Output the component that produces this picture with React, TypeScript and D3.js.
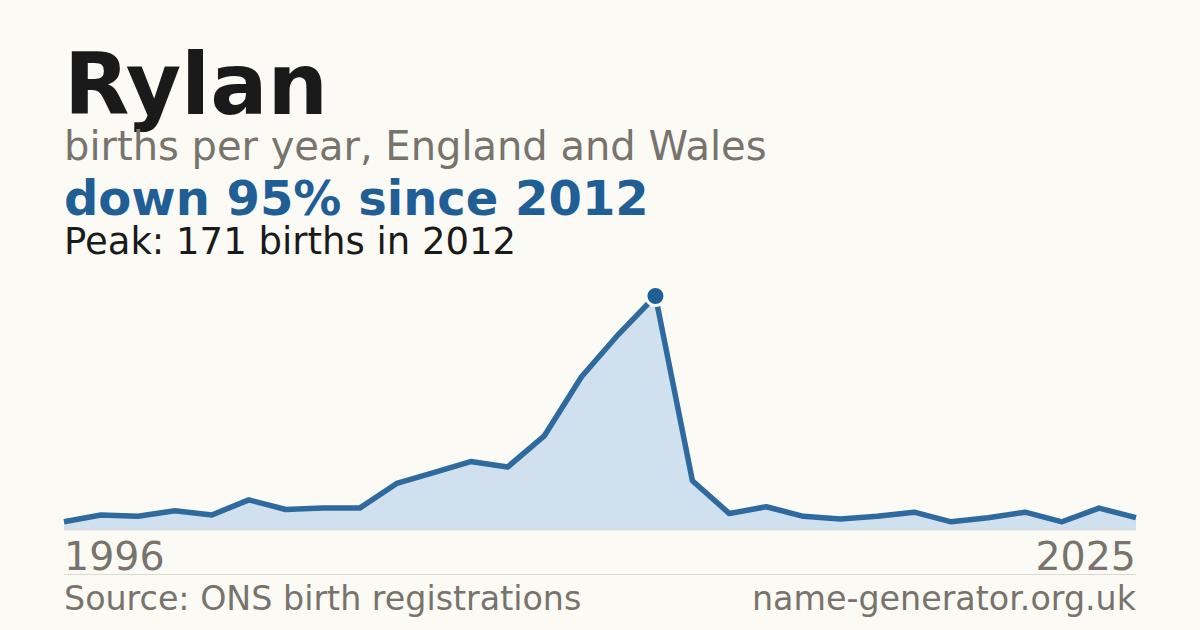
import * as d3 from "d3";

const years: number[] = [
  1996, 1997, 1998, 1999, 2000, 2001, 2002, 2003, 2004, 2005,
  2006, 2007, 2008, 2009, 2010, 2011, 2012, 2013, 2014, 2015,
  2016, 2017, 2018, 2019, 2020, 2021, 2022, 2023, 2024, 2025,
];

const births: number[] = [
  6, 11, 10, 14, 11, 22, 15, 16, 16, 34,
  42, 50, 46, 69, 112, 143, 171, 36, 12, 17,
  10, 8, 10, 13, 6, 9, 13, 6, 16, 9,
];

const peakYear = 2012;
const peakValue = 171;

const width = 1200;
const height = 630;
const margin = { left: 64, right: 64 };
const plotTop = 296;
const plotBottom = 530;

const font = "'DejaVu Sans', sans-serif";

export default function App() {
  const x = d3
    .scaleLinear()
    .domain([years[0], years[years.length - 1]])
    .range([margin.left, width - margin.right]);

  const y = d3.scaleLinear().domain([0, peakValue]).range([plotBottom, plotTop]);

  const points: [number, number][] = years.map((yr, i) => [yr, births[i]]);

  const area = d3
    .area<[number, number]>()
    .x((d) => x(d[0]))
    .y0(plotBottom)
    .y1((d) => y(d[1]));

  const line = d3
    .line<[number, number]>()
    .x((d) => x(d[0]))
    .y((d) => y(d[1]));

  return (
    <svg
      width={width}
      height={height}
      style={{ display: "block", position: "absolute", left: 0, top: 0 }}
    >
      <rect width={width} height={height} fill="#fbfaf5" />

      <text x={64} y={114} fontFamily={font} fontWeight="bold" fontSize={85} fill="#1a1a1a">
        Rylan
      </text>
      <text x={64} y={160} fontFamily={font} fontSize={40} fill="#78736c">
        births per year, England and Wales
      </text>
      <text x={64} y={215} fontFamily={font} fontWeight="bold" fontSize={48} fill="#1f5f96">
        down 95% since 2012
      </text>
      <text x={64} y={254} fontFamily={font} fontSize={37} fill="#1a1a1a">
        Peak: 171 births in 2012
      </text>

      <path d={area(points) ?? ""} fill="#d0e0ef" />
      <line
        x1={margin.left}
        x2={width - margin.right}
        y1={plotBottom}
        y2={plotBottom}
        stroke="#e6ddd0"
        strokeWidth={1}
      />
      <path
        d={line(points) ?? ""}
        fill="none"
        stroke="#2f6a9e"
        strokeWidth={5.5}
        strokeLinejoin="round"
      />
      <circle
        cx={x(peakYear)}
        cy={y(peakValue)}
        r={9.5}
        fill="#1f5f96"
        stroke="#fbfaf5"
        strokeWidth={3}
      />

      <text x={64} y={570} fontFamily={font} fontSize={39.5} fill="#78736c">
        {years[0]}
      </text>
      <text x={1136} y={570} fontFamily={font} fontSize={39.5} fill="#78736c" textAnchor="end">
        {years[years.length - 1]}
      </text>

      <line x1={64} x2={1136} y1={574.5} y2={574.5} stroke="#dcd9d2" strokeWidth={1} />

      <text x={64} y={610} fontFamily={font} fontSize={33.3} fill="#78736c">
        Source: ONS birth registrations
      </text>
      <text x={1136} y={610} fontFamily={font} fontSize={33.3} fill="#78736c" textAnchor="end">
        name-generator.org.uk
      </text>
    </svg>
  );
}
